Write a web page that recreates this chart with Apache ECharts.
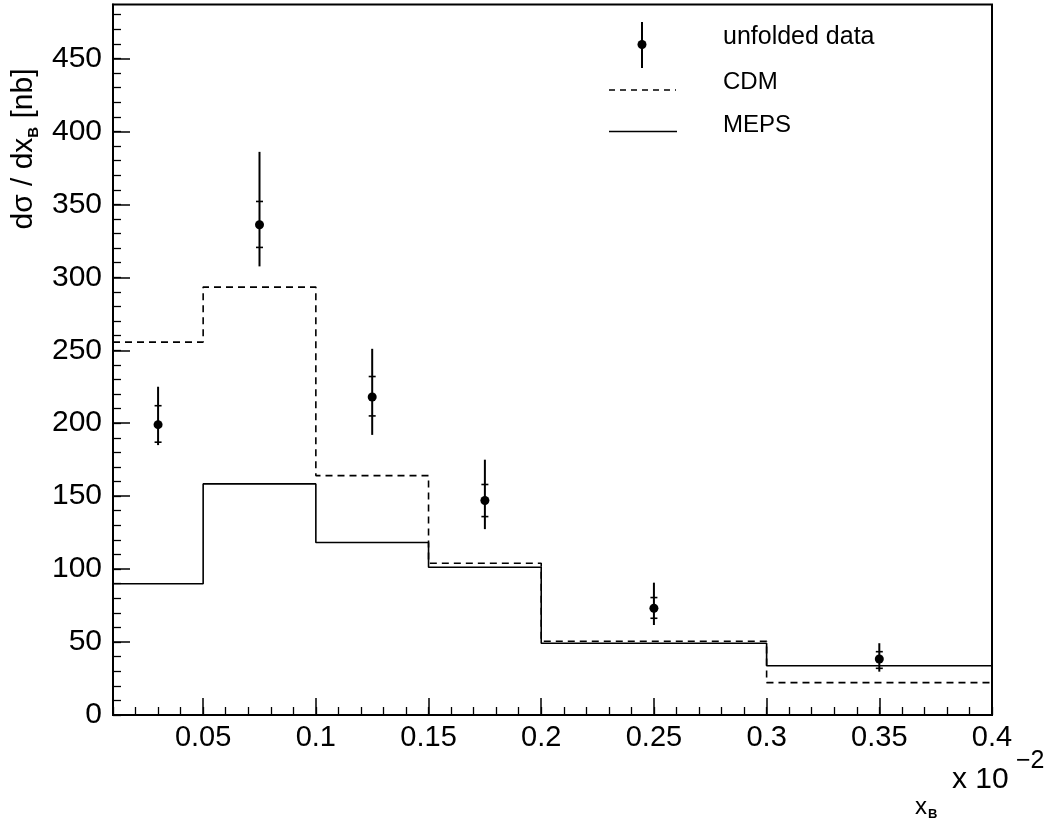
<!DOCTYPE html>
<html><head><meta charset="utf-8">
<script src="https://cdn.jsdelivr.net/npm/echarts@6/dist/echarts.min.js"></script>
<style>html,body{margin:0;padding:0;background:#fff}#c{width:1050px;height:820px}</style>
</head><body><div id="c"></div>
<script>
// ---- data ----
const binEdges = [0.01, 0.05, 0.1, 0.15, 0.2, 0.3, 0.4];
const cdmValues = [255.6, 293.3, 164.1, 104.0, 50.5, 22.2];
const mepsValues = [90.0, 158.4, 118.2, 101.3, 49.2, 33.8];
const dataX = [0.03, 0.075, 0.125, 0.175, 0.25, 0.35];
const dataY = [199, 336, 218, 147, 73.2, 38.4];
const statHigh = [212, 352, 232, 158, 80.5, 43.4];
const statLow = [187, 320.5, 205, 136, 66.3, 32];
const totalHigh = [225, 386, 251, 175, 90.7, 49.2];
const totalLow = [185, 307.5, 192, 127.4, 61.7, 29.7];
const xTickLabels = ['0.05', '0.1', '0.15', '0.2', '0.25', '0.3', '0.35', '0.4'];
const yTickLabels = ['0', '50', '100', '150', '200', '250', '300', '350', '400', '450'];
const xMin = 0.01, xMax = 0.4, yMin = 0, yMax = 487;

// ---- derived ----
const xMajor = xTickLabels.map(Number);
const yMajor = yTickLabels.map(Number);
const xMinor = []; for (let i = 1; i <= 40; i++) xMinor.push(i / 100);
const yMinor = []; for (let v = 0; v <= 480; v += 10) yMinor.push(v);
function stepData(vals) {
  return binEdges.map((x, i) => [x, vals[Math.min(i, vals.length - 1)]]);
}
const errData = dataX.map((x, i) => [x, dataY[i], statLow[i], statHigh[i], totalLow[i], totalHigh[i]]);

const FONT = '"Liberation Sans", Arial, sans-serif';
const chart = echarts.init(document.getElementById('c'), null, {renderer: 'canvas'});
const baseX = {type: 'value', min: xMin, max: xMax, gridIndex: 0, position: 'bottom', splitLine: {show: false}};
const baseY = {type: 'value', min: yMin, max: yMax, gridIndex: 0, position: 'left', splitLine: {show: false}};
chart.setOption({
  animation: false,
  backgroundColor: '#fff',
  grid: {left: 113, right: 58, top: 4.5, bottom: 105, show: true, borderColor: '#000', borderWidth: 2, backgroundColor: 'transparent'},
  xAxis: [
    Object.assign({}, baseX, {
      axisLine: {show: true, lineStyle: {color: '#000', width: 2}},
      axisTick: {show: true, inside: true, length: 17, customValues: xMajor, lineStyle: {color: '#000', width: 1.5}},
      axisLabel: {show: true, customValues: xMajor, margin: 8, color: '#000', fontSize: 29, fontFamily: FONT,
        formatter: v => xTickLabels[xMajor.indexOf(v)] ?? ''}
    }),
    Object.assign({}, baseX, {
      axisLine: {show: false},
      axisTick: {show: true, inside: true, length: 8, customValues: xMinor, lineStyle: {color: '#000', width: 1.3}},
      axisLabel: {show: false}
    })
  ],
  yAxis: [
    Object.assign({}, baseY, {
      axisLine: {show: true, lineStyle: {color: '#000', width: 2}},
      axisTick: {show: true, inside: true, length: 17, customValues: yMajor, lineStyle: {color: '#000', width: 1.5}},
      axisLabel: {show: true, customValues: yMajor, margin: 11, color: '#000', fontSize: 30, fontFamily: FONT,
        formatter: v => yTickLabels[yMajor.indexOf(v)] ?? ''}
    }),
    Object.assign({}, baseY, {
      axisLine: {show: false},
      axisTick: {show: true, inside: true, length: 8, customValues: yMinor, lineStyle: {color: '#000', width: 1.3}},
      axisLabel: {show: false}
    })
  ],
  series: [
    {name: 'CDM', type: 'line', step: 'end', xAxisIndex: 0, yAxisIndex: 0, data: stepData(cdmValues), showSymbol: false, symbol: 'none',
      lineStyle: {color: '#000', width: 1.6, type: [7, 5]}, z: 3},
    {name: 'MEPS', type: 'line', step: 'end', xAxisIndex: 0, yAxisIndex: 0, data: stepData(mepsValues), showSymbol: false, symbol: 'none',
      lineStyle: {color: '#000', width: 1.6}, z: 4},
    {name: 'unfolded data', type: 'custom', xAxisIndex: 0, yAxisIndex: 0, data: errData, z: 5,
      renderItem: function (params, api) {
        const x = api.value(0);
        const c = api.coord([x, api.value(1)]);
        const sLo = api.coord([x, api.value(2)]);
        const sHi = api.coord([x, api.value(3)]);
        const tLo = api.coord([x, api.value(4)]);
        const tHi = api.coord([x, api.value(5)]);
        const cap = 3.5;
        return {type: 'group', children: [
          {type: 'line', shape: {x1: c[0], y1: tLo[1], x2: c[0], y2: tHi[1]}, style: {stroke: '#000', lineWidth: 2}},
          {type: 'line', shape: {x1: c[0] - cap, y1: sLo[1], x2: c[0] + cap, y2: sLo[1]}, style: {stroke: '#000', lineWidth: 1.6}},
          {type: 'line', shape: {x1: c[0] - cap, y1: sHi[1], x2: c[0] + cap, y2: sHi[1]}, style: {stroke: '#000', lineWidth: 1.6}},
          {type: 'circle', shape: {cx: c[0], cy: c[1], r: 4.5}, style: {fill: '#000'}}
        ]};
      }
    }
  ],
  graphic: [
    // legend
    {type: 'line', shape: {x1: 642, y1: 22, x2: 642, y2: 68}, style: {stroke: '#000', lineWidth: 2}},
    {type: 'circle', shape: {cx: 642, cy: 44.5, r: 4.5}, style: {fill: '#000'}},
    {type: 'text', x: 723, y: 37, style: {text: 'unfolded data', fontSize: 25, fontFamily: FONT, fill: '#000', verticalAlign: 'middle'}},
    {type: 'line', shape: {x1: 609, y1: 90, x2: 676, y2: 90}, style: {stroke: '#000', lineWidth: 1.6, lineDash: [6, 5]}},
    {type: 'text', x: 723, y: 82, style: {text: 'CDM', fontSize: 24, fontFamily: FONT, fill: '#000', verticalAlign: 'middle'}},
    {type: 'line', shape: {x1: 609, y1: 131.5, x2: 677, y2: 131.5}, style: {stroke: '#000', lineWidth: 1.6}},
    {type: 'text', x: 723, y: 125, style: {text: 'MEPS', fontSize: 24, fontFamily: FONT, fill: '#000', verticalAlign: 'middle'}},
    // y title
    {type: 'text', x: 24, y: 149, rotation: Math.PI / 2,
      style: {text: '{m|dσ / dx}{s|B}{m| [nb]}', align: 'center', verticalAlign: 'middle', fill: '#000',
        rich: {m: {fontSize: 30, fontFamily: FONT, lineHeight: 34, fill: '#000'},
               s: {fontSize: 15, fontWeight: 'bold', fontFamily: FONT, lineHeight: 17, verticalAlign: 'bottom', fill: '#000'}}}},
    // x title and exponent
    {type: 'text', x: 915, y: 807, style: {text: 'x', fontSize: 24, fontFamily: FONT, fill: '#000', verticalAlign: 'middle'}},
    {type: 'text', x: 928, y: 814, style: {text: 'B', fontSize: 13, fontWeight: 'bold', fontFamily: FONT, fill: '#000', verticalAlign: 'middle'}},
    {type: 'text', x: 952, y: 780, style: {text: 'x 10', fontSize: 30, fontFamily: FONT, fill: '#000', verticalAlign: 'middle'}},
    {type: 'text', x: 1016, y: 761, style: {text: '−2', fontSize: 25, fontFamily: FONT, fill: '#000', verticalAlign: 'middle'}}
  ]
});
</script></body></html>
